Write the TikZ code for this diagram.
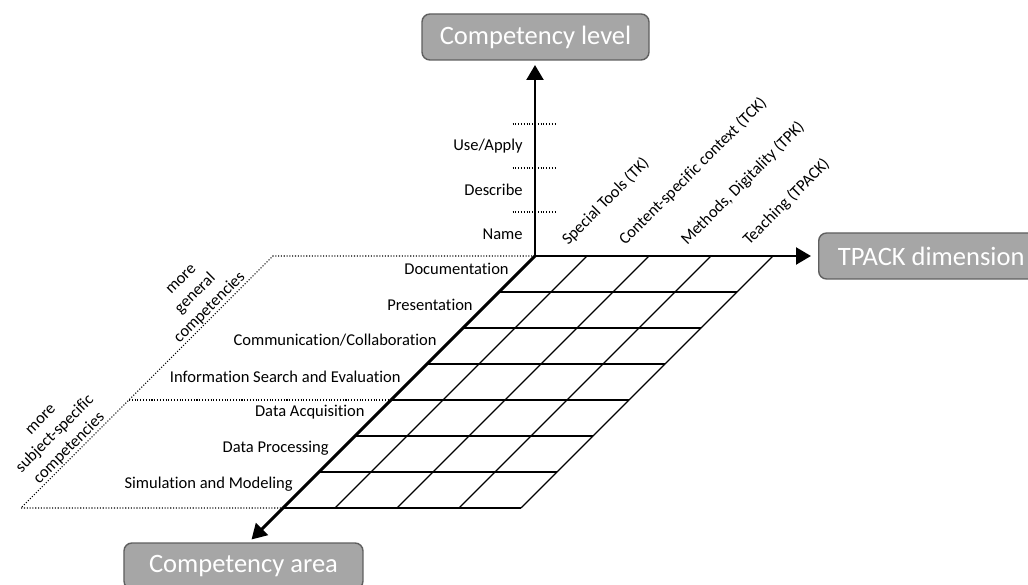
\documentclass[tikz,border=0pt]{standalone}
\usepackage{fontspec}
\setmainfont{Carlito}[Ligatures=NoCommon]
\usetikzlibrary{arrows.meta}
\definecolor{boxfill}{HTML}{A6A6A6}
\definecolor{boxline}{HTML}{5F5F5F}
\begin{document}
\begin{tikzpicture}[
            axis/.style={line width=1.7pt, -{Triangle[length=8.5pt,width=9.5pt]}},
            cell/.style={line width=0.7pt},
            guide/.style={densely dotted, line width=0.6pt},
            dimbox/.style={rectangle, rounded corners=4.5pt, draw=boxline, line width=0.8pt, fill=boxfill, text=white, font=\fontsize{15.1}{18}\selectfont, minimum height=0.92cm, inner xsep=0pt},
            lab/.style={font=\fontsize{9.4}{11.5}\selectfont, inner sep=0pt}
            ]
            \useasboundingbox (-10.7,-6.58) rectangle (9.86,5.12);
            \clip (-10.7,-6.58) rectangle (9.86,5.12);

            \coordinate (o) at (0,0);
            \coordinate (lvltip) at (0,3.82);
            \coordinate (dimtip) at (5.52,0);
            \coordinate (areatip) at (-5.67,-5.67);

            \node[dimbox, minimum width=4.54cm] (level) at (0.01,4.38) {Competency level};
            \node[dimbox, minimum width=4.5cm, anchor=west] (dim) at (5.66,0) {TPACK dimension};
            \node[dimbox, minimum width=4.78cm] (area) at (-5.83,-6.2) {Competency area};

            \foreach \r in {1,...,7}
                \draw[cell] (-0.72*\r,-0.72*\r) -- ++(4.76,0);
            \foreach \c in {1.04,2.28,3.52,4.76}
                \draw[cell] (\c,0) -- ++(-5.04,-5.04);

            \foreach \y in {0.88,1.76,2.64}
                \draw[guide] (-0.45,\y) -- (0.43,\y);
            \node[lab, anchor=east] (name) at (-0.24,0.44) {Name};
            \node[lab, anchor=east] (describe) at (-0.24,1.32) {Describe};
            \node[lab, anchor=east] (apply) at (-0.24,2.2) {Use/Apply};

            \foreach \txt [count=\i from 0] in {Documentation, Presentation, Communication/Collaboration, Information Search and Evaluation, Data Acquisition, Data Processing, Simulation and Modeling}
                \node[lab, anchor=east] (row\i) at (-0.52-0.72*\i,-0.25-0.72*\i) {\txt};

            \foreach \x/\txt [count=\i] in {0.66/Special Tools (TK), 1.8/Content-specific context (TCK), {3.04/Methods, Digitality (TPK)}, 4.28/Teaching (TPACK)}
                \node[lab, rotate=45, anchor=base west] (col\i) at (\x,0.2) {\txt};

            \draw[guide] (o) -- (-5.24,0) coordinate (gtop) -- (-8.12,-2.88) coordinate (gmid) -- (-10.28,-5.04) coordinate (gbot) -- (-5.04,-5.04);
            \draw[guide] (gmid) -- (-2.88,-2.88);
            \path (gmid) -- node[lab, pos=0.6, above=0.5pt, sloped, align=center] (general) {more\\general\\competencies} (gtop);
            \path (gbot) -- node[lab, above=0.5pt, sloped, align=center] (specific) {more\\subject-specific\\competencies} (gmid);

            \draw[axis] (o) -- (lvltip);
            \draw[axis] (o) -- (dimtip);
            \draw[axis] (o) -- (areatip);
\end{tikzpicture}
\end{document}
